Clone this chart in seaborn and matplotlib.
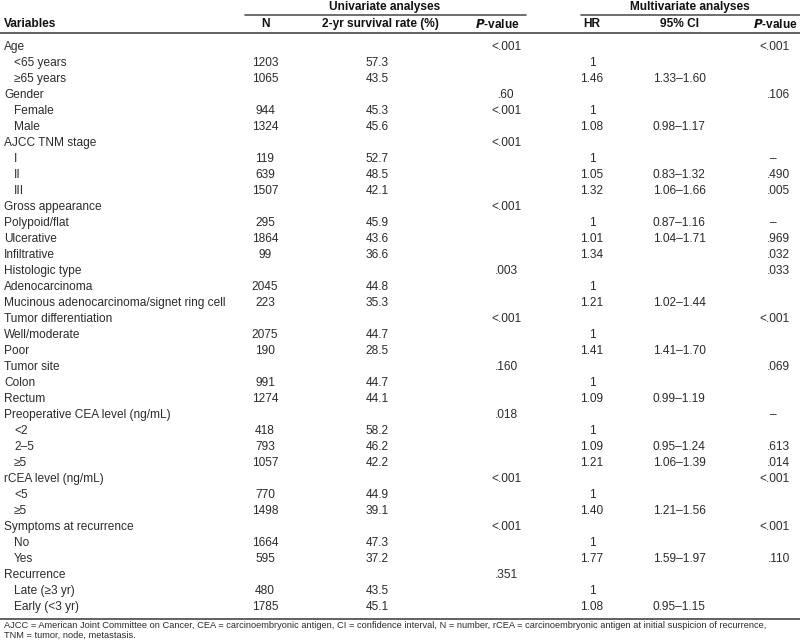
import matplotlib
matplotlib.use("Agg")
import matplotlib.pyplot as plt
import seaborn as sns
from matplotlib import font_manager

sns.set_theme(style="white")
names = {f.name for f in font_manager.fontManager.ttflist}
narrow = "Liberation Sans Narrow" if "Liberation Sans Narrow" in names else "Liberation Sans"
plt.rcParams['font.family'] = [narrow, 'DejaVu Sans']

# ---- data ----
variables = ["Age", "<65 years", "≥65 years", "Gender", "Female", "Male",
             "AJCC TNM stage", "I", "II", "III", "Gross appearance",
             "Polypoid/flat", "Ulcerative", "Infiltrative", "Histologic type",
             "Adenocarcinoma", "Mucinous adenocarcinoma/signet ring cell",
             "Tumor differentiation", "Well/moderate", "Poor", "Tumor site",
             "Colon", "Rectum", "Preoperative CEA level (ng/mL)", "<2", "2–5",
             "≥5", "rCEA level (ng/mL)", "<5", "≥5", "Symptoms at recurrence",
             "No", "Yes", "Recurrence", "Late (≥3 yr)", "Early (<3 yr)"]
indented = [0, 1, 1, 0, 1, 1, 0, 1, 1, 1, 0, 0, 0, 0, 0, 0, 0, 0, 0, 0, 0,
            0, 0, 0, 1, 1, 1, 0, 1, 1, 0, 1, 1, 0, 1, 1]
n_values = ["", "1203", "1065", "", "944", "1324", "", "119", "639", "1507",
            "", "295", "1864", "99", "", "2045", "223", "", "2075", "190", "",
            "991", "1274", "", "418", "793", "1057", "", "770", "1498", "",
            "1664", "595", "", "480", "1785"]
survival = ["", "57.3", "43.5", "", "45.3", "45.6", "", "52.7", "48.5", "42.1",
            "", "45.9", "43.6", "36.6", "", "44.8", "35.3", "", "44.7", "28.5",
            "", "44.7", "44.1", "", "58.2", "46.2", "42.2", "", "44.9", "39.1",
            "", "47.3", "37.2", "", "43.5", "45.1"]
p_uni = ["<.001", "", "", ".60", "<.001", "", "<.001", "", "", "", "<.001",
         "", "", "", ".003", "", "", "<.001", "", "", ".160", "", "", ".018",
         "", "", "", "<.001", "", "", "<.001", "", "", ".351", "", ""]
hr = ["", "1", "1.46", "", "1", "1.08", "", "1", "1.05", "1.32", "", "1",
      "1.01", "1.34", "", "1", "1.21", "", "1", "1.41", "", "1", "1.09", "",
      "1", "1.09", "1.21", "", "1", "1.40", "", "1", "1.77", "", "1", "1.08"]
ci = ["", "", "1.33–1.60", "", "", "0.98–1.17", "", "", "0.83–1.32",
      "1.06–1.66", "", "0.87–1.16", "1.04–1.71", "", "", "", "1.02–1.44", "",
      "", "1.41–1.70", "", "", "0.99–1.19", "", "", "0.95–1.24", "1.06–1.39",
      "", "", "1.21–1.56", "", "", "1.59–1.97", "", "", "0.95–1.15"]
p_multi = ["<.001", "", "", ".106", "", "", "", "–", ".490", ".005", "", "–",
           ".969", ".032", ".033", "", "", "<.001", "", "", ".069", "", "",
           "–", "", ".613", ".014", "<.001", "", "", "<.001", "", ".110", "",
           "", ""]
footnote = ("AJCC = American Joint Committee on Cancer, CEA = carcinoembryonic antigen, "
            "CI = confidence interval, N = number, rCEA = carcinoembryonic antigen at initial "
            "suspicion of recurrence,\nTNM = tumor, node, metastasis.")

# ---- layout ----
fig = plt.figure(figsize=(8.0, 6.42), dpi=100)
ax = fig.add_axes([0, 0, 1, 1])
ax.set_xlim(0, 800)
ax.set_ylim(642, 0)
ax.axis("off")

txt = "#2b2b2b"
fs = 8.6
hfs = 8.6

# header
ax.text(385, 7, "Univariate analyses", ha="center", va="center", fontsize=hfs,
        fontweight="bold", color="#111")
ax.text(690, 7, "Multivariate analyses", ha="center", va="center", fontsize=hfs,
        fontweight="bold", color="#111")
ax.plot([245, 526], [14.5, 14.5], color="#555", lw=1.2)
ax.plot([581, 800], [14.5, 14.5], color="#555", lw=1.2)
hy = 24
ax.text(4, hy, "Variables", ha="left", va="center", fontsize=hfs, fontweight="bold", color="#111")
ax.text(265, hy, "N", ha="center", va="center", fontsize=hfs, fontweight="bold", color="#111")
ax.text(380, hy, "2-yr survival rate (%)", ha="center", va="center", fontsize=hfs,
        fontweight="bold", color="#111")
ax.text(520, hy, r"$\bfit{P}$" + "-value", ha="right", va="center", fontsize=hfs,
        fontweight="bold", color="#111")
ax.text(592, hy, "HR", ha="center", va="center", fontsize=hfs, fontweight="bold", color="#111")
ax.text(680, hy, "95% CI", ha="center", va="center", fontsize=hfs, fontweight="bold", color="#111")
ax.text(798, hy, r"$\bfit{P}$" + "-value", ha="right", va="center", fontsize=hfs,
        fontweight="bold", color="#111")
ax.axhline(32.5, color="#555", lw=1.3)

y0, dy = 47, 16.0
for i, v in enumerate(variables):
    y = y0 + i * dy
    ax.text(14 if indented[i] else 4, y, v, ha="left", va="center", fontsize=fs, color=txt)
    ax.text(265, y, n_values[i], ha="center", va="center", fontsize=fs, color=txt)
    ax.text(377, y, survival[i], ha="center", va="center", fontsize=fs, color=txt)
    ax.text(506, y, p_uni[i], ha="center", va="center", fontsize=fs, color=txt)
    ax.text(592, y, hr[i], ha="center", va="center", fontsize=fs, color=txt)
    ax.text(679, y, ci[i], ha="center", va="center", fontsize=fs, color=txt)
    if p_multi[i] == "–":
        ax.text(773, y, p_multi[i], ha="center", va="center", fontsize=fs, color=txt)
    else:
        ax.text(790, y, p_multi[i], ha="right", va="center", fontsize=fs, color=txt)

ax.axhline(619, color="#555", lw=1.3)
ax.text(4, 621, footnote, ha="left", va="top", fontsize=6.7, color=txt, linespacing=1.05)

fig.savefig("out.png", dpi=100)
